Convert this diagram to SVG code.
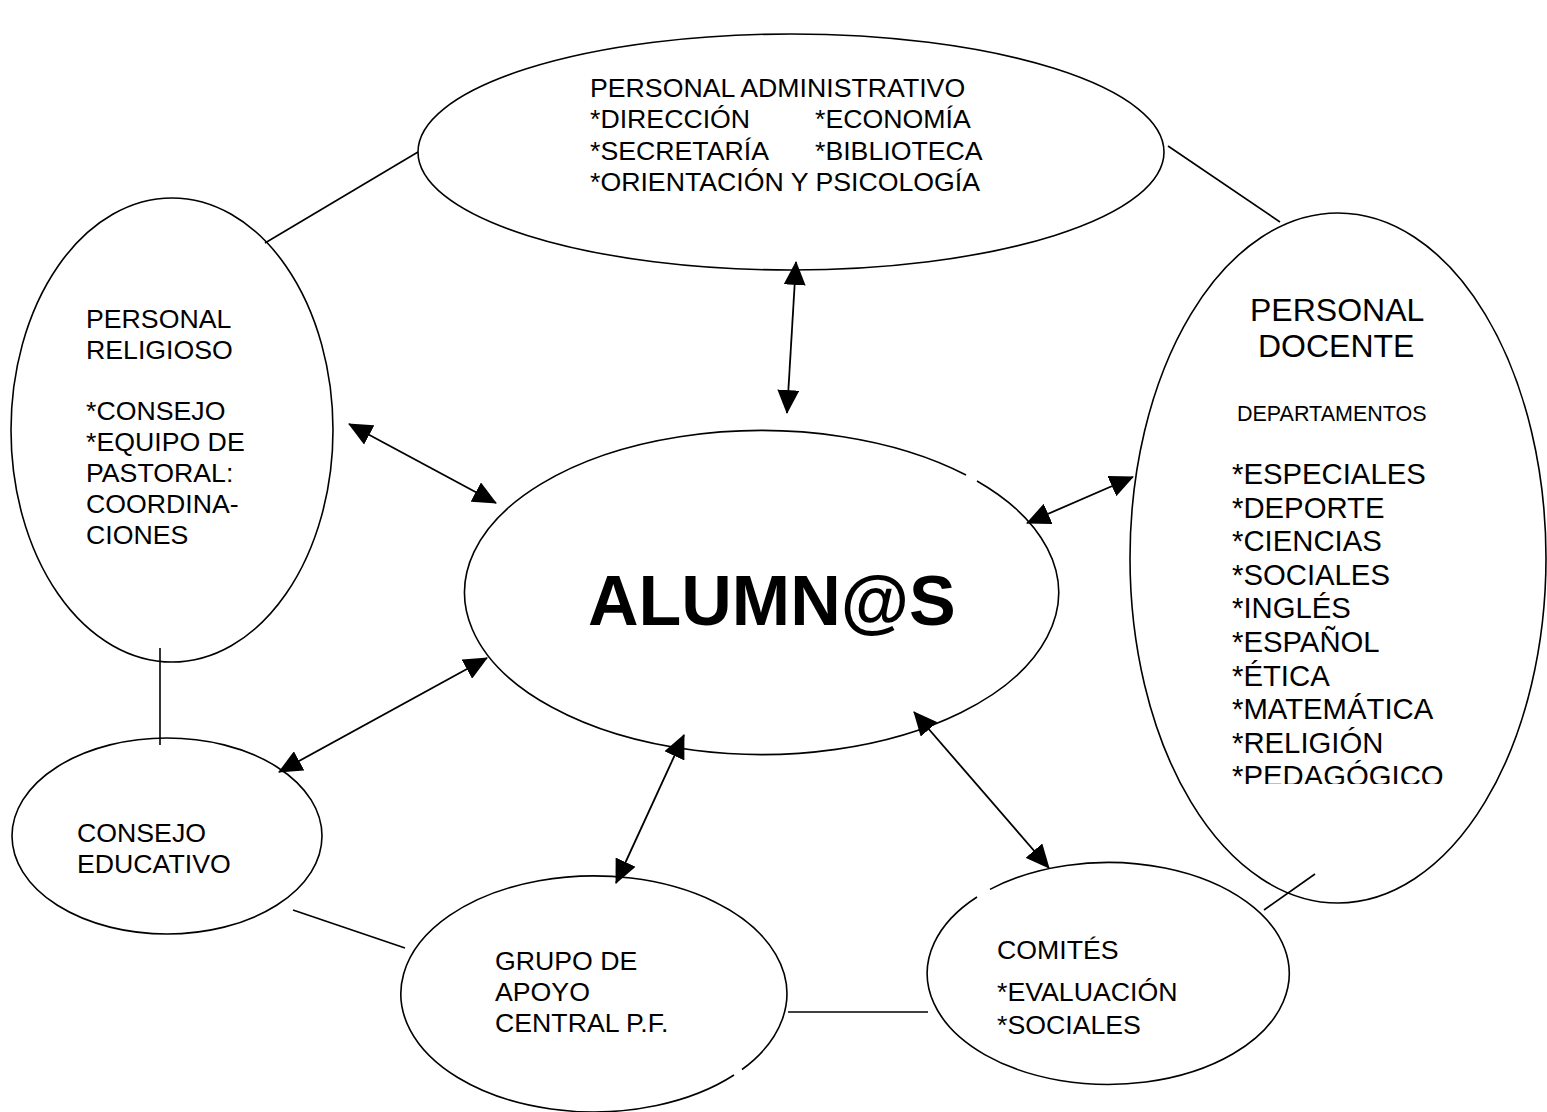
<svg xmlns="http://www.w3.org/2000/svg" width="1547" height="1112" viewBox="0 0 1547 1112">
<style>
.sh{fill:none;stroke:#000;stroke-width:1.6}
.ln{fill:none;stroke:#000;stroke-width:1.6}
.ar{fill:none;stroke:#000;stroke-width:1.8;marker-start:url(#ah);marker-end:url(#ah)}
text{font-family:"Liberation Sans",Arial,sans-serif;fill:#000}
.t{font-size:26.7px}
.tb{font-size:32px}
.ts{font-size:21.5px}
.tl{font-size:29.3px}
.big{font-size:70px;font-weight:bold}
</style>
<defs>
<marker id="ah" markerUnits="userSpaceOnUse" markerWidth="24" markerHeight="22" viewBox="0 0 24 22" refX="23" refY="11" orient="auto-start-reverse">
<path d="M0,0 L24,11 L0,22 z" fill="#000"/>
</marker>
<clipPath id="clipDoc"><rect x="1100" y="200" width="447" height="584"/></clipPath>
</defs>
<rect width="1547" height="1112" fill="#fff"/>

<g id="connectors">
<line class="ln" x1="265" y1="243" x2="418" y2="152"/>
<line class="ln" x1="1168" y1="146" x2="1280" y2="222"/>
<line class="ln" x1="160" y1="648" x2="160" y2="745"/>
<line class="ln" x1="293" y1="910" x2="405" y2="948"/>
<line class="ln" x1="788" y1="1012" x2="928" y2="1012"/>
<line class="ln" x1="1264" y1="910" x2="1315" y2="874"/>
<line class="ar" x1="796" y1="262" x2="787" y2="413"/>
<line class="ar" x1="349" y1="424" x2="496" y2="503"/>
<line class="ar" x1="1027" y1="523" x2="1133" y2="477"/>
<line class="ar" x1="487" y1="658" x2="279" y2="772"/>
<line class="ar" x1="684" y1="735" x2="616" y2="883"/>
<line class="ar" x1="914" y1="712" x2="1049" y2="868"/>
</g>

<g id="administrativo">
<ellipse class="sh" cx="791" cy="152" rx="373" ry="118"/>
<text class="t" x="590" y="97">PERSONAL ADMINISTRATIVO</text>
<text class="t" x="590" y="128">*DIRECCIÓN</text>
<text class="t" x="815" y="128">*ECONOMÍA</text>
<text class="t" x="590" y="160">*SECRETARÍA</text>
<text class="t" x="815" y="160">*BIBLIOTECA</text>
<text class="t" x="590" y="191">*ORIENTACIÓN Y PSICOLOGÍA</text>
</g>

<g id="religioso">
<ellipse class="sh" cx="172" cy="430" rx="161" ry="232"/>
<text class="t" x="86" y="328">PERSONAL</text>
<text class="t" x="86" y="359">RELIGIOSO</text>
<text class="t" x="86" y="420">*CONSEJO</text>
<text class="t" x="86" y="451">*EQUIPO DE</text>
<text class="t" x="86" y="482">PASTORAL:</text>
<text class="t" x="86" y="513">COORDINA-</text>
<text class="t" x="86" y="544">CIONES</text>
</g>

<g id="docente">
<ellipse class="sh" cx="1338" cy="558" rx="208" ry="345"/>
<text class="tb" x="1250" y="321">PERSONAL</text>
<text class="tb" x="1258" y="357">DOCENTE</text>
<text class="ts" x="1237" y="421">DEPARTAMENTOS</text>
<g clip-path="url(#clipDoc)">
<text class="tl" x="1232" y="484">*ESPECIALES</text>
<text class="tl" x="1232" y="518">*DEPORTE</text>
<text class="tl" x="1232" y="551">*CIENCIAS</text>
<text class="tl" x="1232" y="585">*SOCIALES</text>
<text class="tl" x="1232" y="618">*INGLÉS</text>
<text class="tl" x="1232" y="652">*ESPAÑOL</text>
<text class="tl" x="1232" y="686">*ÉTICA</text>
<text class="tl" x="1232" y="719">*MATEMÁTICA</text>
<text class="tl" x="1232" y="753">*RELIGIÓN</text>
<text class="tl" x="1232" y="786">*PEDAGÓGICO</text>
</g>
</g>

<g id="alumnos">
<path class="sh" d="M977,481 A297,162 0 1 1 966,475"/>
<text class="big" x="588" y="625">ALUMN@S</text>
</g>

<g id="consejo-educativo">
<ellipse class="sh" cx="167" cy="836" rx="155" ry="98"/>
<text class="t" x="77" y="842">CONSEJO</text>
<text class="t" x="77" y="873">EDUCATIVO</text>
</g>

<g id="grupo-apoyo">
<path class="sh" d="M742,1069.5 A193,118 0 1 0 734,1075"/>
<text class="t" x="495" y="970">GRUPO DE</text>
<text class="t" x="495" y="1001">APOYO</text>
<text class="t" x="495" y="1032">CENTRAL P.F.</text>
</g>

<g id="comites">
<path class="sh" d="M990,889.4 A181,111 0 1 1 977,897"/>
<text class="t" x="997" y="959">COMITÉS</text>
<text class="t" x="997" y="1001">*EVALUACIÓN</text>
<text class="t" x="997" y="1034">*SOCIALES</text>
</g>
</svg>
